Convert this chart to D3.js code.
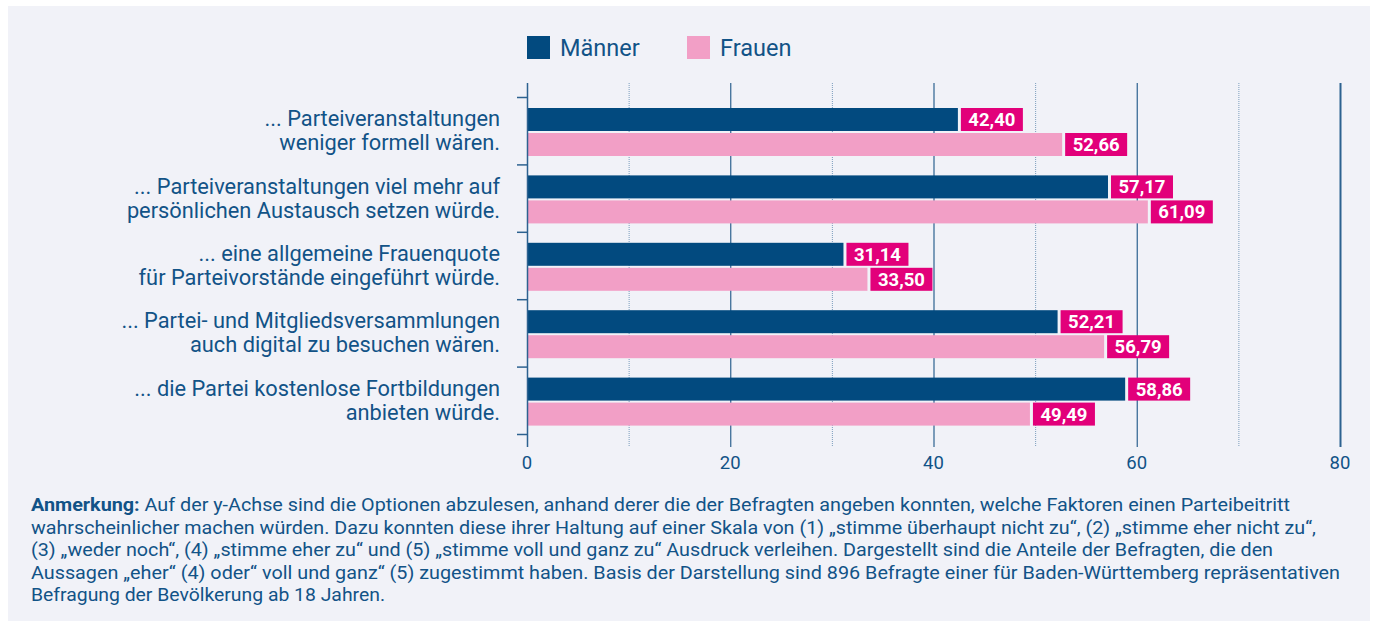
<!DOCTYPE html>
<html><head><meta charset="utf-8">
<script src="https://cdn.jsdelivr.net/npm/d3@7"></script>
<style>body{margin:0;background:#fff;font-family:Roboto,sans-serif}</style>
</head><body>
<svg id="c" width="1375" height="627"></svg>
<script>
const categories = [
  ["... Parteiveranstaltungen", "weniger formell wären."],
  ["... Parteiveranstaltungen viel mehr auf", "persönlichen Austausch setzen würde."],
  ["... eine allgemeine Frauenquote", "für Parteivorstände eingeführt würde."],
  ["... Partei- und Mitgliedsversammlungen", "auch digital zu besuchen wären."],
  ["... die Partei kostenlose Fortbildungen", "anbieten würde."]
];
const seriesNames = ["Männer", "Frauen"];
const maenner = [42.40, 57.17, 31.14, 52.21, 58.86];
const frauen = [52.66, 61.09, 33.50, 56.79, 49.49];
const xTicks = [0, 20, 40, 60, 80];
const xMinorTicks = [10, 30, 50, 70];
const noteLines = [
  ["Anmerkung:", " Auf der y-Achse sind die Optionen abzulesen, anhand derer die der Befragten angeben konnten, welche Faktoren einen Parteibeitritt"],
  ["", "wahrscheinlicher machen würden. Dazu konnten diese ihrer Haltung auf einer Skala von (1) „stimme überhaupt nicht zu“, (2) „stimme eher nicht zu“,"],
  ["", "(3) „weder noch“, (4) „stimme eher zu“ und (5) „stimme voll und ganz zu“ Ausdruck verleihen. Dargestellt sind die Anteile der Befragten, die den"],
  ["", "Aussagen „eher“ (4) oder“ voll und ganz“ (5) zugestimmt haben. Basis der Darstellung sind 896 Befragte einer für Baden-Württemberg repräsentativen"],
  ["", "Befragung der Bevölkerung ab 18 Jahren."]
];
const noteWidths = [1259, 1285, 1242, 1309, 354];

const colors = {men:"#024a7f", women:"#f29fc6", label:"#e2007a", text:"#125387", grid:"#2d6290", gridMinor:"#7a9cbc", bg:"#f1f2f8"};

const svg = d3.select("#c");
svg.append("rect").attr("x",8).attr("y",6).attr("width",1362).attr("height",615).attr("fill",colors.bg);

const x = d3.scaleLinear().domain([0,80]).range([527,1340]);
const y = d3.scaleBand().domain(d3.range(categories.length)).range([97,434]).padding(0);

// gridlines
const gTop = 83, gBot = 447;
svg.append("g").selectAll("line").data(xMinorTicks).join("line")
  .attr("x1",d=>x(d)+0.5).attr("x2",d=>x(d)+0.5).attr("y1",gTop).attr("y2",gBot)
  .attr("stroke",colors.gridMinor).attr("stroke-width",1).attr("stroke-dasharray","1,1");
svg.append("g").selectAll("line").data(xTicks.filter(d=>d>0)).join("line")
  .attr("x1",d=>x(d)+0.5).attr("x2",d=>x(d)+0.5).attr("y1",gTop).attr("y2",gBot)
  .attr("stroke",colors.grid).attr("stroke-width",d=>d===80?2:1.2);

// bars
const barH = 23;
const rows = categories.map((c,i)=>({i, m:maenner[i], f:frauen[i]}));
const bars = [];
rows.forEach(r=>{
  bars.push({i:r.i, v:r.m, s:0});
  bars.push({i:r.i, v:r.f, s:1});
});
const barY = d => y(d.i) + 11 + d.s*(barH+2);
svg.append("g").selectAll("rect").data(bars).join("rect")
  .attr("x",x(0)).attr("y",barY).attr("width",d=>x(d.v)-x(0)).attr("height",barH)
  .attr("fill",d=>d.s===0?colors.men:colors.women);

// y axis
const yAxis = svg.append("g");
yAxis.append("line").attr("x1",527.5).attr("x2",527.5).attr("y1",gTop).attr("y2",gBot).attr("stroke",colors.grid).attr("stroke-width",1.5);
const bounds = d3.range(categories.length+1).map(i=>i<categories.length?y(i):y(categories.length-1)+y.bandwidth());
yAxis.selectAll("line.t").data(bounds).join("line").attr("class","t")
  .attr("x1",517).attr("x2",527).attr("y1",d=>d+0.5).attr("y2",d=>d+0.5).attr("stroke",colors.grid).attr("stroke-width",1.5);

// value labels
const fmt = v => v.toFixed(2).replace(".", ",");
const lab = svg.append("g").selectAll("g").data(bars).join("g")
  .attr("transform",d=>`translate(${x(d.v)+3},${barY(d)})`);
lab.append("rect").attr("width",62).attr("height",barH).attr("fill",colors.label);
lab.append("text").attr("x",31).attr("y",barH/2+6.5).attr("text-anchor","middle")
  .attr("fill","#fff").attr("font-weight","bold").attr("font-size",18.5).text(d=>fmt(d.v));

// category labels
const cl = svg.append("g").selectAll("text").data(categories).join("text")
  .attr("text-anchor","end").attr("fill",colors.text).attr("font-size",21.8);
cl.each(function(d,i){
  const cy = y(i)+y.bandwidth()/2;
  d3.select(this).selectAll("tspan").data(d).join("tspan")
    .attr("x",500).attr("y",(t,j)=>cy + (j===0?-12:12) + 7.5).text(t=>t);
});

// x axis labels
svg.append("g").selectAll("text").data(xTicks).join("text")
  .attr("x",d=>x(d)).attr("y",469).attr("text-anchor","middle")
  .attr("fill",colors.text).attr("font-size",18.5).text(d=>d);

// legend
const leg = svg.append("g");
const legX = [527, 687];
seriesNames.forEach((n,i)=>{
  leg.append("rect").attr("x",legX[i]).attr("y",36).attr("width",23).attr("height",23).attr("fill",i===0?colors.men:colors.women);
  leg.append("text").attr("x",legX[i]+33).attr("y",56).attr("fill",colors.text).attr("font-size",23.5).text(n);
});

// note
const nt = svg.append("g");
noteLines.forEach((l,i)=>{
  const t = nt.append("text").attr("x",31).attr("y",511+i*22.6).attr("fill",colors.text).attr("font-size",17.5)
    .attr("textLength",noteWidths[i]).attr("lengthAdjust","spacingAndGlyphs");
  if(l[0]) t.append("tspan").attr("font-weight","bold").text(l[0]);
  t.append("tspan").text(l[1]);
});
</script>
</body></html>
